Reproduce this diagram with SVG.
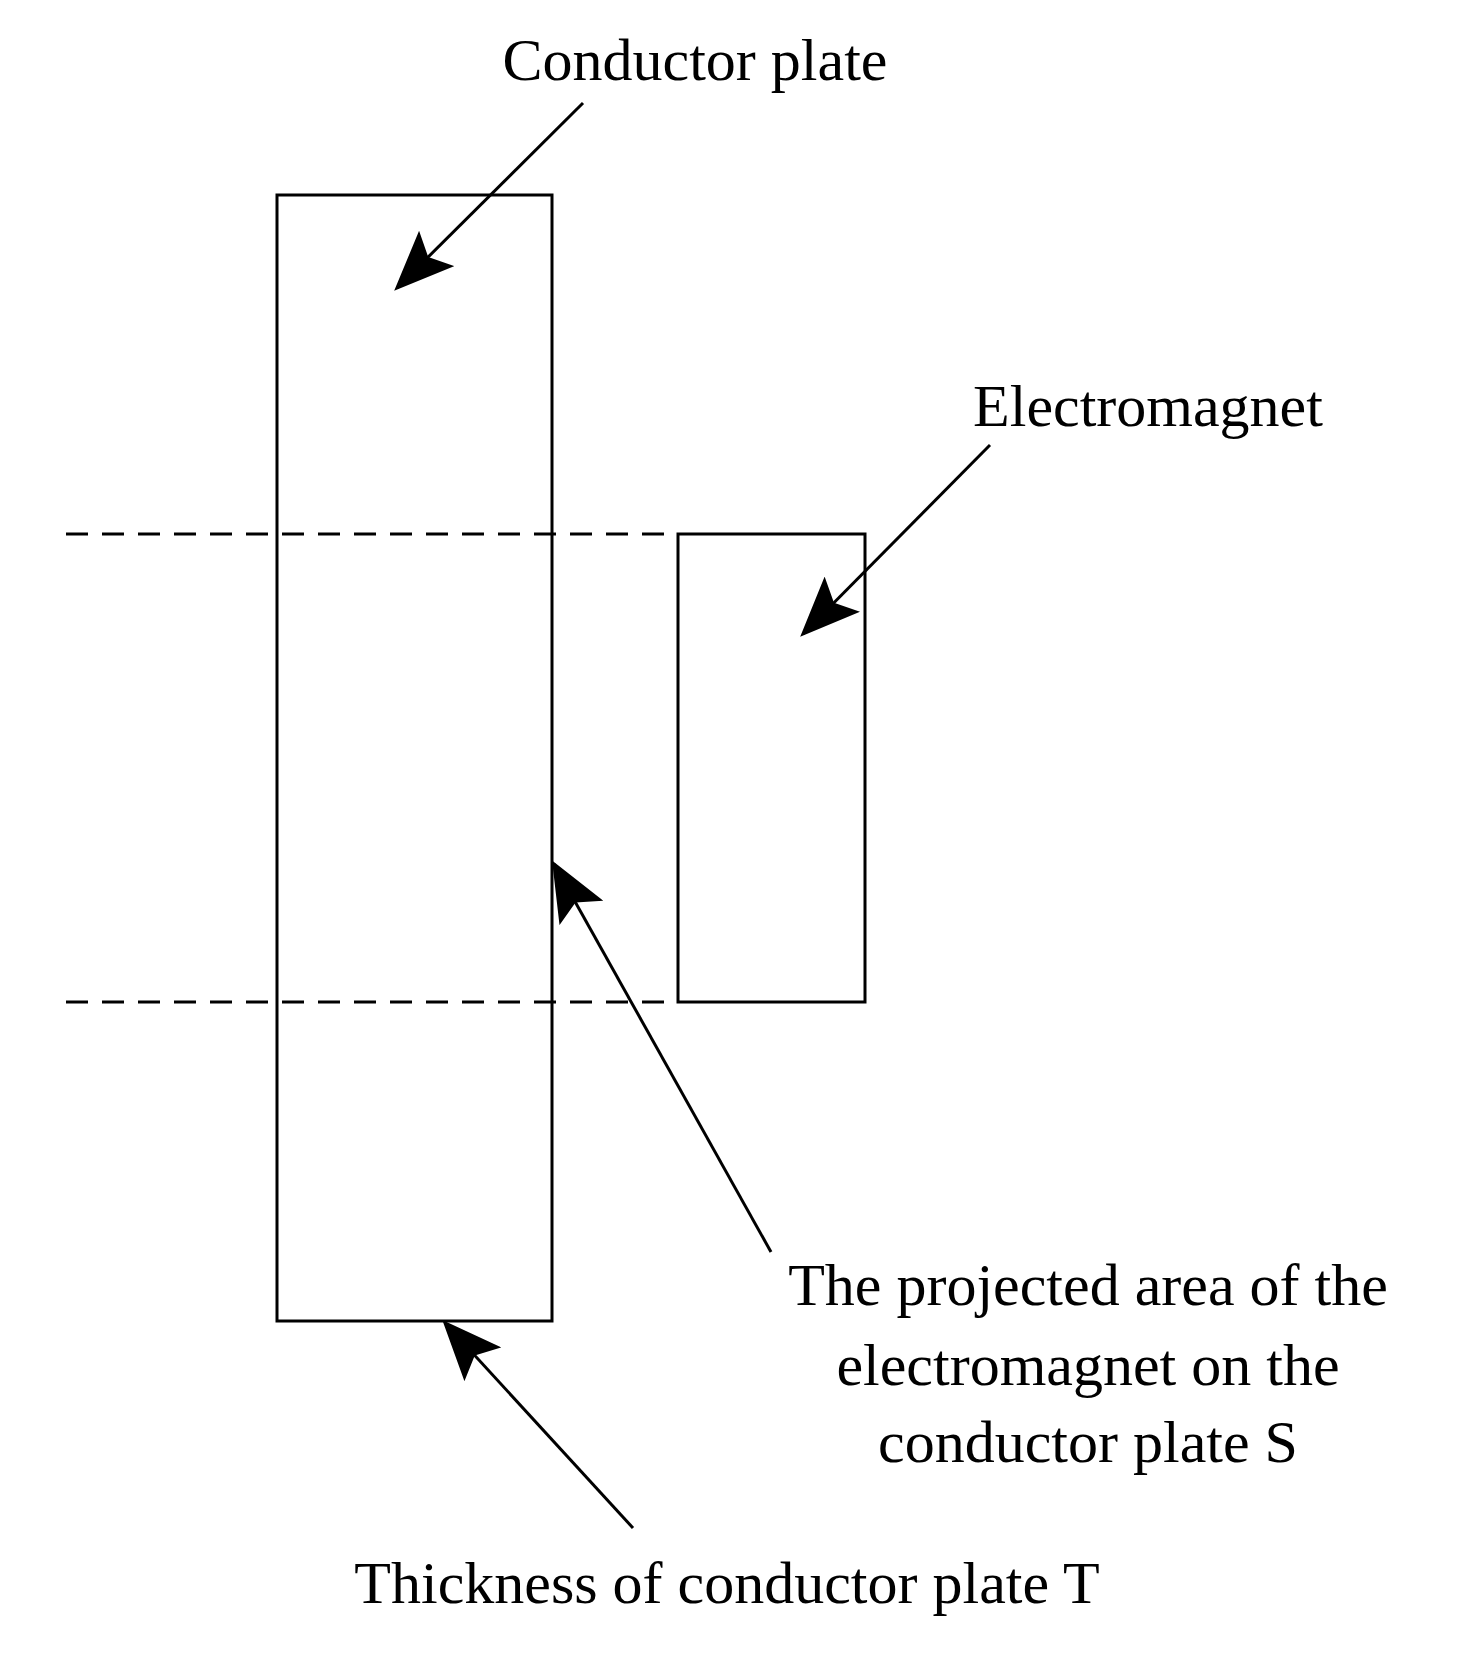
<svg xmlns="http://www.w3.org/2000/svg" width="1469" height="1669" viewBox="0 0 1469 1669">
<style>
.s{fill:none;stroke:#000;stroke-width:3}
.d{stroke:#000;stroke-width:3;stroke-dasharray:22 14}
.a{stroke:#000;stroke-width:3;fill:none;marker-end:url(#ah)}
text{font-family:"Liberation Serif",serif;font-size:60px;fill:#000;text-anchor:middle}
</style>
<defs>
<marker id="ah" markerUnits="userSpaceOnUse" markerWidth="60" markerHeight="50" viewBox="0 0 60 50" refX="56" refY="25" orient="auto">
<path d="M0,0 L60,25 L0,50 L12,25 Z" fill="#000"/>
</marker>
</defs>
<rect width="1469" height="1669" fill="#fff"/>
<g id="conductor-plate"><rect class="s" x="277" y="195" width="275" height="1126"/></g>
<g id="electromagnet"><rect class="s" x="678" y="534" width="187" height="468"/></g>
<g id="guides"><line class="d" x1="66" y1="534" x2="678" y2="534"/><line class="d" x1="66" y1="1002" x2="678" y2="1002"/></g>
<g id="connectors">
<line class="a" x1="583" y1="103" x2="397" y2="288"/>
<line class="a" x1="990" y1="445" x2="803" y2="634"/>
<line class="a" x1="771" y1="1252" x2="554" y2="864"/>
<line class="a" x1="633" y1="1528" x2="445" y2="1323"/>
</g>
<g id="labels">
<text x="695" y="80">Conductor plate</text>
<text x="1148" y="426">Electromagnet</text>
<text x="1088" y="1305">The projected area of the</text>
<text x="1088" y="1385">electromagnet on the</text>
<text x="1088" y="1462">conductor plate S</text>
<text x="727" y="1603">Thickness of conductor plate T</text>
</g>
</svg>
